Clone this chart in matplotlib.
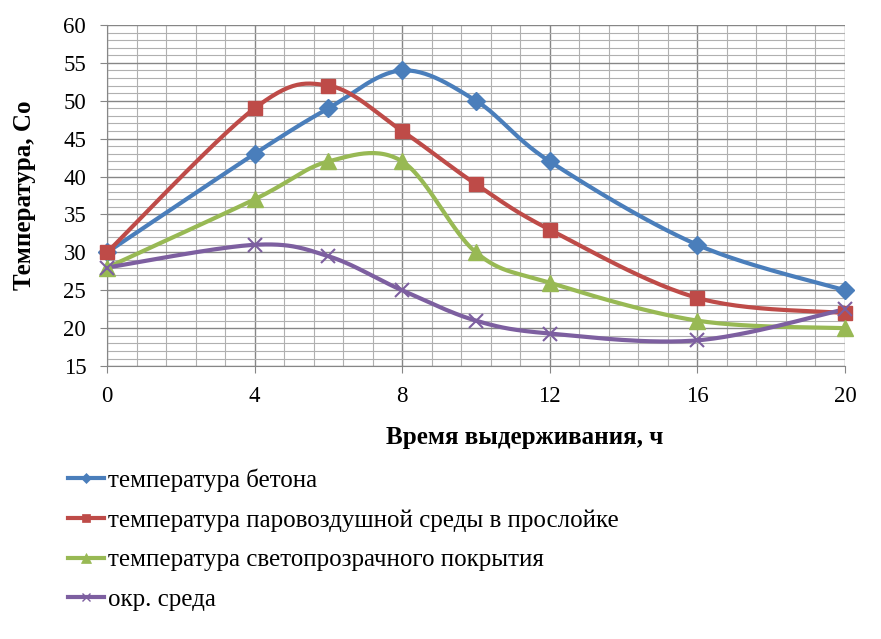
import numpy as np
import matplotlib.pyplot as plt
from matplotlib.ticker import MultipleLocator

plt.rcParams['font.family'] = ['Liberation Serif', 'DejaVu Serif']

# время выдерживания, ч
hours = [0, 4, 6, 8, 10, 12, 16, 20]

# температуры, °C
t_concrete = [30, 43, 49, 54, 50, 42, 31, 25]
t_layer = [30, 49, 52, 46, 39, 33, 24, 22]
t_cover = [28, 37, 42, 42, 30, 26, 21, 20]
t_ambient = [28, 31, 29.5, 25, 21, 19.3, 18.4, 22.5]

labels = ["температура бетона",
          "температура паровоздушной среды в прослойке",
          "температура светопрозрачного покрытия",
          "окр. среда"]


def smooth(x, y, n=30):
    # сглаживание как в Excel (кривые Безье по соседним точкам)
    x = np.asarray(x, float)
    y = np.asarray(y, float)
    xs, ys = [], []
    for i in range(len(x) - 1):
        p0 = np.array([x[max(i - 1, 0)], y[max(i - 1, 0)]])
        p1 = np.array([x[i], y[i]])
        p2 = np.array([x[i + 1], y[i + 1]])
        p3 = np.array([x[min(i + 2, len(x) - 1)], y[min(i + 2, len(x) - 1)]])
        c1 = p1 + (p2 - p0) / 6
        c2 = p2 - (p3 - p1) / 6
        t = np.linspace(0, 1, n)[:, None]
        pts = ((1 - t) ** 3 * p1 + 3 * (1 - t) ** 2 * t * c1
               + 3 * (1 - t) * t ** 2 * c2 + t ** 3 * p2)
        xs.extend(pts[:, 0])
        ys.extend(pts[:, 1])
    return xs, ys


fig = plt.figure(figsize=(8.81, 6.39), dpi=100)
ax = fig.add_axes([0.1215, 0.427, 0.8375, 0.534])

series = [
    (t_concrete, "#4A7EBB", "D", 9),
    (t_layer, "#BE4B48", "s", 10),
    (t_cover, "#98B954", "^", 11),
    (t_ambient, "#7D5FA0", "x", 10),
]

handles = []
for (vals, color, marker, ms), label in zip(series, labels):
    sx, sy = smooth(hours, vals)
    ax.plot(sx, sy, color=color, lw=3, zorder=3)
    ax.plot(hours, vals, ls="none", marker=marker, color=color, ms=ms,
            mew=1.5 if marker == "x" else 1, zorder=4, clip_on=False)
    h, = ax.plot([], [], color=color, lw=3, marker=marker, ms=ms * 0.6,
                 mew=1 if marker == "x" else 0.5)
    handles.append(h)

ax.set_xlim(0, 20)
ax.set_ylim(15, 60)
ax.xaxis.set_major_locator(MultipleLocator(4))
ax.xaxis.set_minor_locator(MultipleLocator(0.8))
ax.yaxis.set_major_locator(MultipleLocator(5))
ax.yaxis.set_minor_locator(MultipleLocator(1))
ax.grid(which="major", color="#868686", lw=1.0)
ax.grid(which="minor", color="#B0B0B0", lw=0.8)
ax.set_axisbelow(True)

for s in ["top", "right"]:
    ax.spines[s].set_visible(False)
for s in ["left", "bottom"]:
    ax.spines[s].set_color("#868686")
ax.tick_params(which="major", length=5, color="#868686", labelsize=16.5)
ax.tick_params(which="minor", length=0)
ax.tick_params(axis="y", pad=10)
ax.tick_params(axis="x", pad=9)

ax.set_xlabel("Время выдерживания, ч", fontsize=18, fontweight="bold",
              labelpad=14, x=0.566)
ax.set_ylabel("Температура, Со", fontsize=18, fontweight="bold", labelpad=20)

fig.legend(handles, labels, loc="upper left", bbox_to_anchor=(0.077, 0.267),
           frameon=False, fontsize=18, labelspacing=0.69, handlelength=1.45,
           handletextpad=0.15, borderaxespad=0, borderpad=0)

fig.savefig("out.png", dpi=100)
